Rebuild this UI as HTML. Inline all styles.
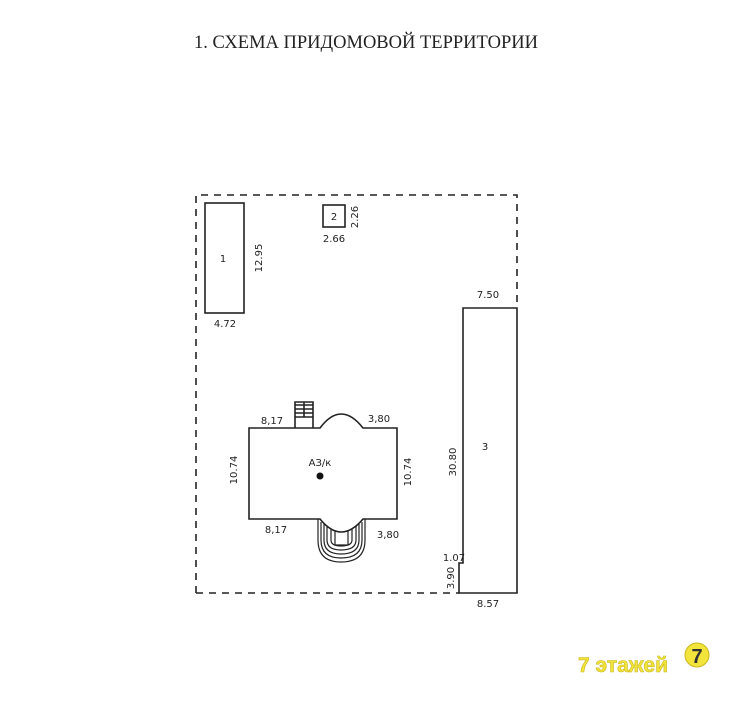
<!DOCTYPE html>
<html><head><meta charset="utf-8"><style>
html,body{margin:0;padding:0;background:#fff;width:750px;height:719px;overflow:hidden}
svg{position:absolute;left:0;top:0}
.t{font-family:"DejaVu Sans","Liberation Sans",sans-serif;font-size:10px;fill:#222}
</style></head><body>
<svg width="750" height="719" viewBox="0 0 750 719">
<text x="366" y="48" text-anchor="middle" font-family="Liberation Serif,serif" font-size="18.5" fill="#222">1. СХЕМА ПРИДОМОВОЙ ТЕРРИТОРИИ</text>
<g stroke="#222" stroke-width="1.6" fill="none">
<path d="M196 593 V195 H517 V308" stroke-dasharray="7,6"/>
<path d="M196 593 H459" stroke-dasharray="7,6"/>
<rect x="205" y="203" width="39" height="110"/>
<rect x="323" y="205" width="22" height="22"/>
<path d="M463 308 H517 V593 H459 V563 H463 Z"/>
<path d="M249 428 H320 Q341 400 363 428 H397 V519 H363 Q341 545 320 519 H249 Z"/>
<path d="M295 428 V402 H313 V428 M295 405 H313 M295 409 H313 M295 413 H313 M295 417 H313 M304 402 V417"/>
<path d="M318 519 V540 Q318 562 341 562 Q365 562 365 540 V519" stroke-width="1.2"/>
<path d="M321 522 V540 Q321 558 341 558 Q362 558 362 540 V522" stroke-width="1.2"/>
<path d="M324 524 V540 Q324 554 341 554 Q359 554 359 540 V524" stroke-width="1.2"/>
<path d="M327 526 V540 Q327 550 341 550 Q356 550 356 540 V526" stroke-width="1.2"/>
<path d="M331 529 V540 Q331 546 341 546 Q352 546 352 540 V529" stroke-width="1.2"/>
<path d="M335 531 V545 H348 V531" stroke-width="1.2"/>
</g>
<circle cx="320" cy="476" r="3.5" fill="#111"/>
<text class="t" x="320" y="466" text-anchor="middle">АЗ/к</text>
<text class="t" x="223" y="262" text-anchor="middle">1</text>
<text class="t" x="334" y="220" text-anchor="middle">2</text>
<text class="t" x="485" y="450" text-anchor="middle">3</text>
<text class="t" x="225" y="327" text-anchor="middle">4.72</text>
<text class="t" x="334" y="242" text-anchor="middle">2.66</text>
<text class="t" transform="translate(358,217) rotate(-90)" text-anchor="middle">2.26</text>
<text class="t" transform="translate(262,258) rotate(-90)" text-anchor="middle">12.95</text>
<text class="t" x="488" y="298" text-anchor="middle">7.50</text>
<text class="t" x="488" y="607" text-anchor="middle">8.57</text>
<text class="t" transform="translate(456,462) rotate(-90)" text-anchor="middle">30.80</text>
<text class="t" x="454" y="561" text-anchor="middle">1.07</text>
<text class="t" transform="translate(454,578) rotate(-90)" text-anchor="middle">3.90</text>
<text class="t" x="272" y="424" text-anchor="middle">8,17</text>
<text class="t" x="379" y="422" text-anchor="middle">3,80</text>
<text class="t" x="276" y="533" text-anchor="middle">8,17</text>
<text class="t" x="388" y="538" text-anchor="middle">3,80</text>
<text class="t" transform="translate(237,470) rotate(-90)" text-anchor="middle">10.74</text>
<text class="t" transform="translate(411,472) rotate(-90)" text-anchor="middle">10.74</text>
<text x="578" y="672" font-family="Liberation Sans,sans-serif" font-weight="bold" font-size="21" fill="#f2e43a" stroke="#c9b820" stroke-width="0.6">7 этажей</text>
<circle cx="697" cy="655" r="12" fill="#f2e43a" stroke="#c9b820"/>
<text x="697" y="663" text-anchor="middle" font-family="Liberation Sans,sans-serif" font-weight="bold" font-size="20" fill="#333">7</text>
</svg>
</body></html>
